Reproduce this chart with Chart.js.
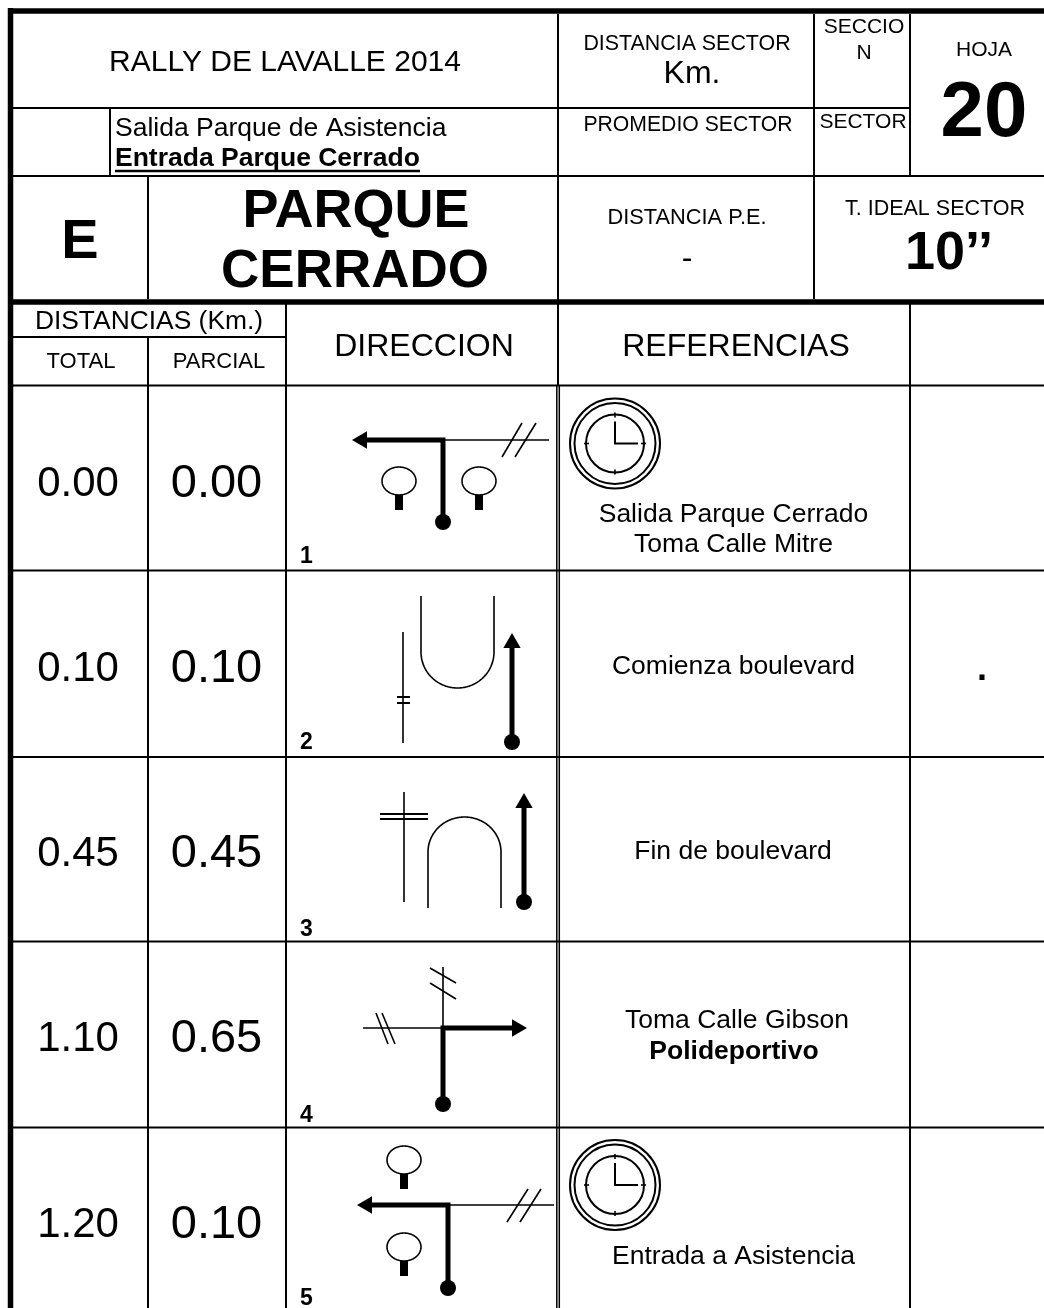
<!DOCTYPE html>
<html><head><meta charset="utf-8">
<style>html,body{margin:0;padding:0;background:#fff}canvas{display:block}</style>
<script src="https://cdn.jsdelivr.net/npm/chart.js@4"></script>
</head><body>
<canvas id="c" width="1044" height="1308"></canvas>
<script>
// ---- values read from the roadbook ----
const totals   = [0.00, 0.10, 0.45, 1.10, 1.20];
const partials = [0.00, 0.10, 0.45, 0.65, 0.10];
const stepNumbers = ['1','2','3','4','5'];
const references = [
  ['Salida Parque Cerrado', 'Toma Calle Mitre'],
  ['Comienza boulevard'],
  ['Fin de boulevard'],
  ['Toma Calle Gibson', 'Polideportivo'],
  ['Entrada a Asistencia']
];
// ---- layout in sheet units (1 unit = 1 px) ----
const rowBaselines = [495.5, 680.5, 866, 1051, 1237];
const stepBaselines = [563, 749, 936, 1122, 1305];
const refLayout = [
  [[733.5,521.5,26.5,false],[733.5,552,26.5,false]],
  [[733.5,674,26.5,false]],
  [[733,859,26.5,false]],
  [[737,1028,26.5,false],[734,1059,26.5,true]],
  [[733.5,1264,26.5,false]]
];
const headerTexts = [
  ['RALLY DE LAVALLE 2014',285,71,30,false],
  ['DISTANCIA SECTOR',687,50,21.4,false],
  ['Km.',692,83,32,false],
  ['SECCIO',864,33,21,false],
  ['N',864,59,21,false],
  ['HOJA',984,56,21,false],
  ['20',984,136,78,true],
  ['PROMEDIO SECTOR',688,131,21.2,false],
  ['SECTOR',863,128,21,false],
  ['E',80,258,56,true],
  ['PARQUE',356,227,54,true],
  ['CERRADO',355,287,53,true],
  ['DISTANCIA P.E.',687,224,21.8,false],
  ['-',687,268,32,false],
  ['T. IDEAL SECTOR',935,215,21.5,false],
  ['10\u2019\u2019',949,269,54,true],
  ['DISTANCIAS (Km.)',149,329,26.4,false],
  ['TOTAL',81,368,22,false],
  ['PARCIAL',219,368,22,false],
  ['DIRECCION',424,356,32,false],
  ['REFERENCIAS',736,356,32,false],
  ['.',982,680,36,true]
];
const leftTexts = [
  ['Salida Parque de Asistencia',115,136,26.5,false],
  ['Entrada Parque Cerrado',115,166,26.5,true]
];
const underline = [[115,171],[420,171]];

const thickFrame = [
  [[8,11],[1044,11]],
  [[10.5,8],[10.5,1308]],
  [[8,302],[1044,302]]
];
const gridLines = [
  [[13,108],[910,108]],[[13,176],[1044,176]],[[13,337],[286,337]],[[13,385.5],[1044,385.5]],
  [[13,570.5],[1044,570.5]],[[13,757],[1044,757]],[[13,941.5],[1044,941.5]],[[13,1127.5],[1044,1127.5]],
  [[110,108],[110,176]],[[148,176],[148,299]],[[148,337],[148,1308]],[[286,304],[286,1308]],
  [[558,14],[558,385]],[[910,14],[910,176]],[[814,14],[814,299]],[[910,304],[910,1308]]
];
const doubleRule = [[[556.8,385],[556.8,1308]],[[559.3,385],[559.3,1308]]];
const routeThick = [
  [[367,440],[443,440],[443,522]],
  [[512,648],[512,742]],
  [[524,808],[524,902]],
  [[443,1104],[443,1028],[513,1028]],
  [[372,1205],[448,1205],[448,1288]]
];
const thinLines = [
  [[443,440],[549,440]],[[502,457],[522,423]],[[515,457],[536,423]],
  [[403,632],[403,743]],
  [[404,792],[404,902]],
  [[443,967],[443,1028]],[[363,1028],[443,1028]],
  [[430,968],[456,983]],[[430,983],[456,999]],
  [[376,1013],[388,1044]],[[382,1013],[395,1044]],
  [[448,1205],[554,1205]],[[507,1222],[528,1189]],[[520,1222],[541,1189]]
];
const crossTicks = [
  [[397,697],[410,697]],[[397,703],[410,703]],
  [[380,814],[428,814]],[[380,819],[428,819]]
];
const uTurns = [ // x-left, x-right, straight-end y, curve-apex y, open-end y
  [421,494,652,688,596],
  [428,501,852,817,908]
];
const trees = [[399,481],[479,481],[404,1160],[404,1247]];
const treeStems = [[[399,495],[399,510]],[[479,495],[479,510]],[[404,1174],[404,1189]],[[404,1261],[404,1276]]];
const startDots = [[443,522],[512,742],[524,902],[443,1104],[448,1288]];
const arrowHeads = [[362,440,-90],[512,643,0],[524,803,0],[517,1028,90],[367,1205,-90]];
const clocks = [[615,443.5],[615,1185]];
const clockRings = [45,40.5,29];

// ---- geometry helpers ----
function pts(a){return a.map(p=>({x:p[0],y:p[1]}));}
function lineDs(a,w){return {type:'line',data:pts(a),borderColor:'#000',backgroundColor:'#000',borderWidth:w,pointRadius:0,fill:false,tension:0,clip:false,borderJoinStyle:'miter',borderCapStyle:'butt'};}
// a tiny tension keeps Chart.js off its column-merging fast path, so curves stay smooth
function curveDs(a,w){return Object.assign(lineDs(a,w),{tension:0.001,borderJoinStyle:'round'});}
function arc(cx,cy,rx,ry,from,to){const r=[];const n=60;for(let i=0;i<=n;i++){const t=(from+(to-from)*i/n)*Math.PI/180;r.push([cx+rx*Math.cos(t),cy+ry*Math.sin(t)]);}return r;}

const datasets=[];
thickFrame.forEach(s=>datasets.push(lineDs(s,5.5)));
gridLines.forEach(s=>datasets.push(lineDs(s,2)));
doubleRule.forEach(s=>datasets.push(lineDs(s,1.5)));
thinLines.forEach(s=>datasets.push(lineDs(s,1.6)));
crossTicks.forEach(s=>datasets.push(lineDs(s,2)));
routeThick.forEach(s=>datasets.push(lineDs(s,5)));
uTurns.forEach(u=>{
  const [l,r,se,apex,open]=u, cx=(l+r)/2, rx=(r-l)/2, ry=apex-se;
  const curve=arc(cx,se,rx,ry,180,0);
  datasets.push(curveDs([[l,open],...curve,[r,open]],1.6));
});
trees.forEach(t=>datasets.push(curveDs(arc(t[0],t[1],17,14,0,360),1.6)));
treeStems.forEach(s=>datasets.push(lineDs(s,8)));
clocks.forEach(c=>{
  const [x,y]=c;
  datasets.push(lineDs([[x,y-22],[x,y],[x+23,y]],2));
  [[[x,y-31],[x,y-26]],[[x,y+26],[x,y+31]],[[x-31,y],[x-26,y]],[[x+26,y],[x+31,y]]].forEach(s=>datasets.push(lineDs(s,1.6)));
  clockRings.forEach(r=>datasets.push({type:'scatter',data:pts([c]),pointStyle:'circle',pointRadius:r,pointBackgroundColor:'rgba(0,0,0,0)',pointBorderColor:'#000',pointBorderWidth:2,clip:false}));
});
datasets.push({type:'scatter',data:pts(startDots),pointStyle:'circle',pointRadius:8,pointBackgroundColor:'#000',pointBorderWidth:0,clip:false});
arrowHeads.forEach(a=>datasets.push({type:'scatter',data:pts([a]),pointStyle:'triangle',pointRadius:10,pointRotation:a[2],pointBackgroundColor:'#000',pointBorderWidth:0,clip:false}));
datasets.push(lineDs(underline,2.5));

const FONT='"Liberation Sans", Arial, sans-serif';
const textPlugin={id:'sheetText',afterDatasetsDraw(chart){
  const {ctx,scales:{x,y}}=chart;
  ctx.save();ctx.fillStyle='#000';ctx.textBaseline='alphabetic';
  function put(t,px,py,size,bold,align){ctx.font=(bold?'bold ':'')+size+'px '+FONT;ctx.textAlign=align||'center';ctx.fillText(t,x.getPixelForValue(px),y.getPixelForValue(py));}
  headerTexts.forEach(t=>put(...t));
  leftTexts.forEach(t=>put(t[0],t[1],t[2],t[3],t[4],'left'));
  totals.forEach((v,i)=>{put(v.toFixed(2),78,rowBaselines[i],42,false);put(partials[i].toFixed(2),216.5,rowBaselines[i]+1,47,false);
    put(stepNumbers[i],300,stepBaselines[i],23,true,'left');
    references[i].forEach((t,j)=>{const l=refLayout[i][j];put(t,l[0],l[1],l[2],l[3]);});
  });
  ctx.restore();
}};
new Chart(document.getElementById('c'),{
  type:'scatter',
  data:{datasets},
  options:{responsive:false,animation:false,devicePixelRatio:1,
    layout:{padding:0,autoPadding:false},
    plugins:{legend:{display:false},tooltip:{enabled:false},title:{display:false}},
    events:[],
    scales:{x:{type:'linear',min:0,max:1044,display:false},y:{type:'linear',min:0,max:1308,reverse:true,display:false}}
  },
  plugins:[textPlugin]
});
</script>
</body></html>
